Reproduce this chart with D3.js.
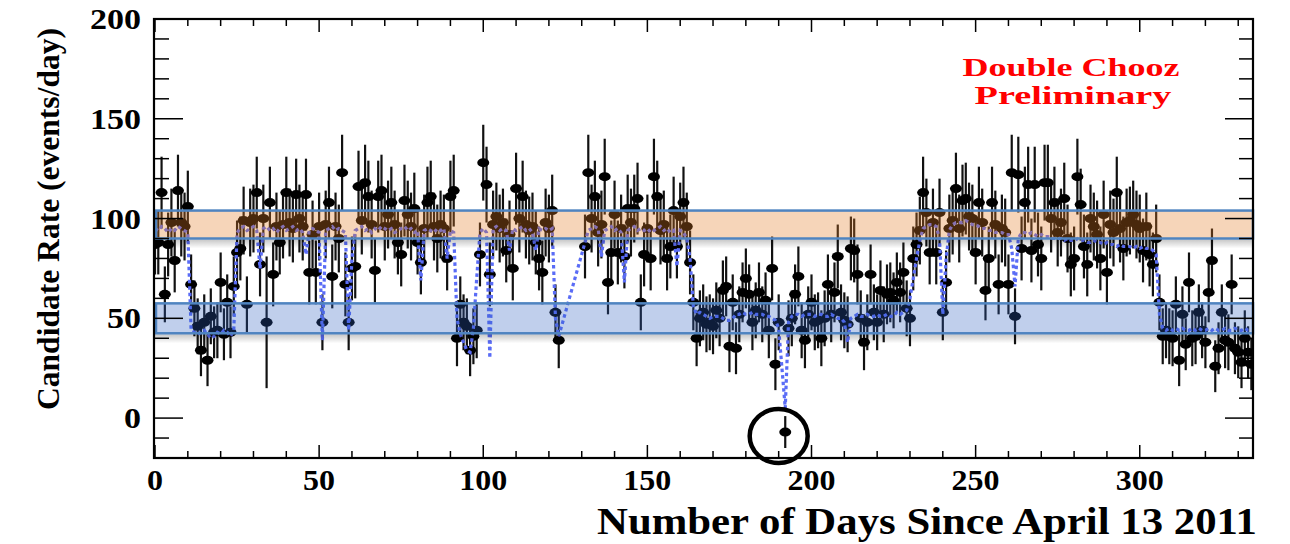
<!DOCTYPE html>
<html><head><meta charset="utf-8">
<script src="https://cdn.jsdelivr.net/npm/d3@7"></script>
<style>body{margin:0;background:#fff}</style>
</head><body>
<svg id="chart" width="1290" height="544"></svg>
<script>
// Candidate rate per day (index = days since April 13 2011), null = no data
const rates = [
87,88,113,62,87,98,79,114,98,96,
106,67,55,46,34,48,29,51,43,44,
68,42,58,43,66,83,85,99,57,98,
100,113,77,100,48,108,72,96,88,97,
113,98,95,112,100,96,112,73,92,73,
96,48,97,108,71,96,90,123,67,48,
75,76,116,99,118,111,97,74,111,114,
96,102,108,97,88,82,109,102,96,105,
88,78,95,108,111,96,90,97,95,80,
111,114,40,57,48,46,34,41,44,82,
128,117,72,97,101,95,98,84,92,75,
115,100,111,97,94,96,88,80,73,98,
95,104,53,39,null,null,null,null,null,null,
null,86,123,100,111,93,97,121,68,83,
102,83,95,81,105,98,105,110,58,82,
95,80,121,111,94,97,80,86,104,86,
101,108,96,78,58,40,50,53,47,48,
46,54,50,64,66,36,58,35,52,63,
70,62,48,54,63,52,59,44,75,27,
48,null,-7,45,50,62,71,44,39,52,
58,48,49,40,50,67,52,63,81,53,
49,47,85,84,72,50,38,48,72,53,
48,64,52,62,63,59,68,63,73,55,
50,80,87,94,113,103,83,98,83,103,
53,68,95,99,115,95,109,110,101,100,
83,108,98,64,80,108,97,67,95,93,
67,123,51,122,85,108,117,84,117,87,
80,118,118,100,108,93,98,110,90,77,
80,121,107,86,77,100,96,92,80,102,
73,97,93,113,95,85,98,99,102,97,
95,84,96,82,77,90,58,41,44,41,
40,57,29,52,37,68,40,41,53,44,
38,63,79,26,35,53,39,38,67,35,
33,28,40,33,27];

// Statistical error (half length of the error bar)
const errors = [
15,16,18,14,16,17,16,18,17,17,
18,15,14,14,13,14,13,14,13,14,
15,13,14,13,15,16,16,17,14,17,
17,18,16,17,33,18,16,17,16,17,
18,17,17,18,17,17,18,16,17,16,
17,14,17,18,16,17,17,19,16,14,
16,16,18,17,19,18,17,16,18,18,
17,17,18,17,16,16,18,17,17,18,
16,16,17,18,18,17,17,17,17,16,
18,18,14,14,14,14,13,14,14,16,
19,19,16,17,17,17,17,16,17,16,
18,17,18,17,17,17,16,16,16,17,
17,18,14,14,null,null,null,null,null,null,
null,16,19,17,18,17,17,19,16,16,
17,16,17,16,17,17,17,18,14,16,
17,16,19,18,17,17,16,16,17,16,
17,18,17,16,14,14,14,14,14,14,
14,14,14,15,15,13,14,13,14,15,
15,15,14,14,15,14,14,14,16,13,
14,null,8,14,14,15,15,14,14,14,
14,14,14,14,14,15,14,15,16,14,
14,14,16,16,15,14,14,14,15,14,
14,15,14,15,15,14,15,15,15,14,
14,16,16,17,18,17,16,17,16,17,
14,16,17,17,18,17,18,18,17,17,
16,18,17,15,16,18,17,15,17,17,
15,19,14,19,16,18,19,16,19,16,
16,19,19,17,18,17,17,18,17,16,
16,19,18,16,16,17,17,17,16,17,
16,17,17,18,17,16,17,17,17,17,
17,16,17,16,16,17,14,14,14,14,
14,14,13,14,13,15,14,14,14,14,
13,15,16,13,13,14,14,14,15,13,
13,13,14,13,13];

// Predicted rate (dotted line)
const predicted = [
95,94,96,95,93,95,94,96,95,94,
93,44,43,42,43,44,42,40,41,43,
42,44,43,41,44,93,95,96,94,95,
96,94,75,95,96,94,95,93,95,96,
94,95,96,94,95,93,82,94,95,94,
93,39,94,95,96,94,95,94,93,44,
80,94,95,96,94,95,93,95,94,96,
95,94,95,93,94,95,96,94,95,93,
94,69,94,95,94,93,95,94,95,80,
94,93,50,42,38,34,33,45,70,93,
95,93,30,95,96,94,95,94,84,95,
94,95,96,94,95,93,84,95,94,95,
94,95,50,41,null,null,null,null,null,null,
null,88,94,95,96,95,81,94,95,96,
94,95,93,68,94,95,96,94,95,94,
95,93,94,95,96,94,95,93,94,76,
94,93,90,80,56,52,53,52,51,50,
51,51,51,50,49,49,50,52,52,53,
52,52,53,52,52,52,51,51,50,49,
45,null,5,48,51,52,52,51,52,52,
52,51,52,52,51,51,52,51,50,50,
48,38,50,51,52,51,51,52,51,51,
52,51,51,52,51,51,53,52,53,54,
60,70,80,89,95,96,97,97,96,90,
52,80,94,97,98,98,98,99,98,97,
97,96,95,95,94,94,93,93,93,92,
92,85,66,90,93,93,92,93,92,91,
92,91,91,90,90,90,90,89,90,89,
89,90,89,89,88,88,89,88,88,87,
88,87,87,86,87,86,86,86,85,86,
85,86,85,85,84,82,52,45,44,45,
44,45,44,45,44,44,45,44,45,44,
44,45,44,45,44,44,45,44,44,45,
44,44,45,44,44];

const xTickValues = [0,50,100,150,200,250,300];
const yTickValues = [0,50,100,150,200];
const bandHigh = [90,104];   // both reactors on
const bandLow = [42.5,57.5]; // one reactor on
const circledDay = [190];
const circledRate = [-9];
const xTitle = "Number of Days Since April 13 2011";
const yTitle = "Candidate Rate (events/day)";
const noteLines = ["Double Chooz","Preliminary"];

const svg = d3.select("#chart");
const L = 155, R = 1253, T = 19, B = 458;
const x = d3.scaleLinear().domain([0,334.5]).range([L,R]);
const y = d3.scaleLinear().domain([-20,200]).range([B,T]);
const serif = "Liberation Serif, Times New Roman, Times, Nimbus Roman, serif";

const defs = svg.append("defs");
defs.append("clipPath").attr("id","clip").append("rect")
  .attr("x",L).attr("y",T).attr("width",R-L).attr("height",B-T);
const g = defs.append("linearGradient").attr("id","shadow").attr("x1",0).attr("y1",0).attr("x2",0).attr("y2",1);
g.append("stop").attr("offset","0%").attr("stop-color","#000").attr("stop-opacity",0.22);
g.append("stop").attr("offset","100%").attr("stop-color","#000").attr("stop-opacity",0);

const pts = rates.map((r,i)=>({day:i, rate:r, err:errors[i], pred:predicted[i]})).filter(d=>d.rate!==null);

const plot = svg.append("g").attr("clip-path","url(#clip)");

// error bars
plot.append("g").selectAll("line").data(pts).join("line")
  .attr("x1",d=>x(d.day)).attr("x2",d=>x(d.day))
  .attr("y1",d=>y(d.rate-d.err)).attr("y2",d=>y(d.rate+d.err))
  .attr("stroke","#111").attr("stroke-width",2.2);
// points
plot.append("g").selectAll("ellipse").data(pts).join("ellipse")
  .attr("cx",d=>x(d.day)).attr("cy",d=>y(d.rate))
  .attr("rx",6).attr("ry",4.5).attr("fill","#000");

// predicted dotted line
const predPts = pts.filter(d=>d.pred!==null);
plot.append("path").datum(predPts)
  .attr("d", d3.line().x(d=>x(d.day)).y(d=>y(d.pred)))
  .attr("fill","none").attr("stroke","#5a6cf6").attr("stroke-width",3.2)
  .attr("stroke-dasharray","3.5,3");

// bands
const bands = [{r:bandHigh, c:"#e27d26", o:0.32},{r:bandLow, c:"#2f5fbf", o:0.3}];
bands.forEach(b=>{
  const y0 = y(b.r[1]), y1 = y(b.r[0]);
  svg.append("rect").attr("x",L).attr("width",R-L).attr("y",y1+1).attr("height",9)
    .attr("fill","url(#shadow)");
  svg.append("rect").attr("x",L+1).attr("width",R-L-1).attr("y",y0).attr("height",y1-y0)
    .attr("fill",b.c).attr("fill-opacity",b.o)
    .attr("stroke","#4f84c0").attr("stroke-width",2.5);
});

// frame & ticks
const ax = svg.append("g").attr("stroke","#000");
ax.append("rect").attr("x",L-1).attr("y",T).attr("width",R-L+1).attr("height",B-T)
  .attr("fill","none").attr("stroke-width",2.2);
const xMinor = d3.range(0,335,10);
xMinor.forEach(v=>{
  const len = v%50===0 ? 13 : 7;
  ax.append("line").attr("x1",x(v)).attr("x2",x(v)).attr("y1",B).attr("y2",B-len).attr("stroke-width",1.5);
  ax.append("line").attr("x1",x(v)).attr("x2",x(v)).attr("y1",T).attr("y2",T+len).attr("stroke-width",1.5);
});
const yMinor = d3.range(-20,201,10);
yMinor.forEach(v=>{
  const len = v%50===0 ? 28 : 14;
  ax.append("line").attr("x1",L).attr("x2",L+len).attr("y1",y(v)).attr("y2",y(v)).attr("stroke-width",1.5);
  ax.append("line").attr("x1",R).attr("x2",R-len).attr("y1",y(v)).attr("y2",y(v)).attr("stroke-width",1.5);
});

// tick labels
svg.append("g").selectAll("text").data(xTickValues).join("text")
  .attr("x",d=>x(d)).attr("y",490).attr("text-anchor","middle")
  .attr("font-family",serif).attr("font-weight","bold").attr("font-size",30)
  .attr("textLength",d=>String(d).length*16).attr("lengthAdjust","spacingAndGlyphs")
  .text(d=>d);
svg.append("g").selectAll("text").data(yTickValues).join("text")
  .attr("x",141).attr("y",d=>y(d)+10).attr("text-anchor","end")
  .attr("font-family",serif).attr("font-weight","bold").attr("font-size",30)
  .attr("textLength",d=>String(d).length*17).attr("lengthAdjust","spacingAndGlyphs")
  .text(d=>d);

// titles
svg.append("text").attr("x",597).attr("y",534)
  .attr("font-family",serif).attr("font-weight","bold").attr("font-size",37)
  .attr("textLength",660).attr("lengthAdjust","spacingAndGlyphs").text(xTitle);
svg.append("text").attr("transform","translate(59,219) rotate(-90)").attr("text-anchor","middle")
  .attr("font-family",serif).attr("font-weight","bold").attr("font-size",31)
  .attr("textLength",382).attr("lengthAdjust","spacingAndGlyphs").text(yTitle);

// note
svg.append("text").attr("x",1071).attr("y",76).attr("text-anchor","middle")
  .attr("font-family",serif).attr("font-weight","bold").attr("font-size",26).attr("fill","#ff0000")
  .attr("textLength",217).attr("lengthAdjust","spacingAndGlyphs").text(noteLines[0]);
svg.append("text").attr("x",1073).attr("y",104).attr("text-anchor","middle")
  .attr("font-family",serif).attr("font-weight","bold").attr("font-size",26).attr("fill","#ff0000")
  .attr("textLength",197).attr("lengthAdjust","spacingAndGlyphs").text(noteLines[1]);

// circle annotation
svg.append("g").selectAll("ellipse").data(circledDay).join("ellipse")
  .attr("cx",(d)=>x(d)).attr("cy",(d,i)=>y(circledRate[i]))
  .attr("rx",29).attr("ry",27).attr("fill","none").attr("stroke","#000").attr("stroke-width",4.5);
</script>
</body></html>
